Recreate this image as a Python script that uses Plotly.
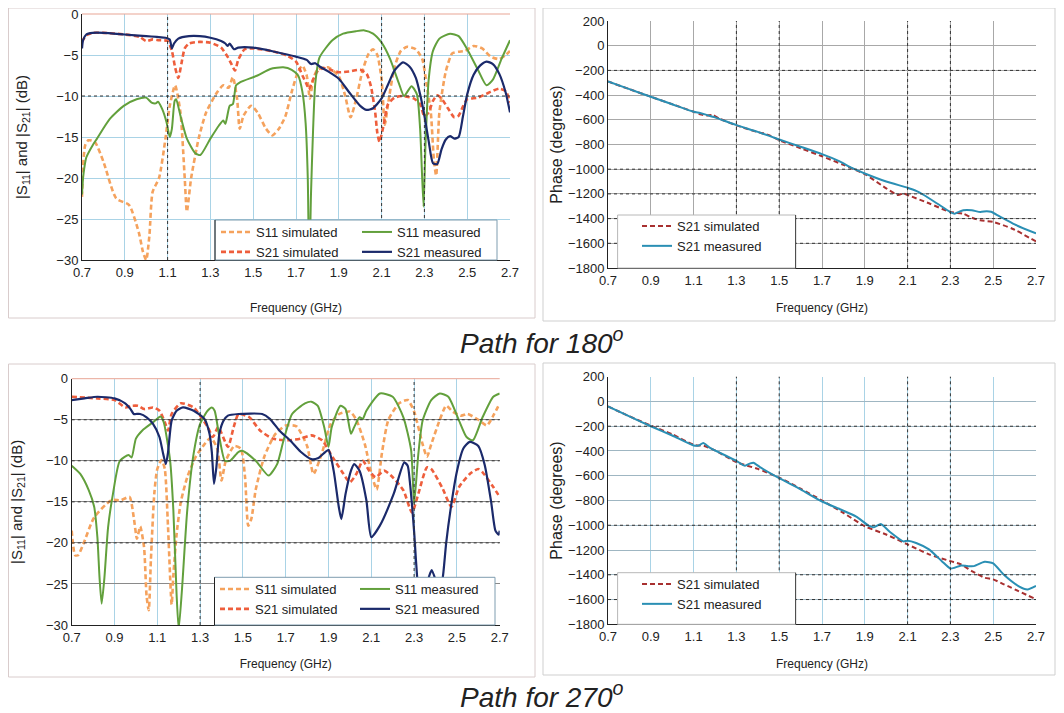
import plotly.graph_objects as go

# page body has an 8px default margin; the figure is sized to fit the window
OFF = 8
W, H = 1064 - OFF, 713 - OFF
FONT = "Liberation Sans, Arial, sans-serif"

# ---------------- data ----------------
freq_ticks = [0.7, 0.9, 1.1, 1.3, 1.5, 1.7, 1.9, 2.1, 2.3, 2.5, 2.7]

# ---- Path for 180 : S-parameters ----
tl_s21m_f = [0.70,0.705,0.72,0.75,0.80,0.90,1.00,1.05,1.09,1.11,1.12,1.13,1.15,1.20,1.25,1.30,1.35,1.37,1.38,1.39,1.41,1.43,1.50,1.60,1.70,1.75,1.77,1.79,1.81,1.85,1.90,1.95,2.00,2.03,2.06,2.10,2.13,2.16,2.20,2.23,2.26,2.28,2.30,2.32,2.34,2.36,2.38,2.40,2.42,2.44,2.46,2.48,2.50,2.53,2.56,2.59,2.62,2.65,2.68,2.70]
tl_s21m_y = [-4.2,-3.2,-2.5,-2.3,-2.3,-2.5,-2.7,-2.8,-2.9,-3.1,-4.2,-3.6,-3.0,-2.7,-2.7,-2.9,-3.3,-3.6,-3.9,-3.6,-4.3,-4.1,-4.1,-4.6,-5.2,-5.6,-6.1,-6.0,-6.4,-7.0,-7.9,-9.6,-11.2,-11.7,-11.5,-10.3,-8.6,-6.9,-5.9,-6.4,-7.8,-9.8,-12.4,-15.5,-18.2,-18.3,-16.5,-15.3,-14.9,-15.2,-15.0,-12.5,-9.8,-7.4,-6.3,-5.8,-6.1,-7.3,-9.6,-12.0]

tl_s21s_f = [0.70,0.72,0.75,0.80,0.90,0.97,1.00,1.03,1.06,1.10,1.12,1.135,1.15,1.165,1.18,1.20,1.25,1.30,1.35,1.38,1.40,1.415,1.43,1.46,1.50,1.60,1.66,1.70,1.73,1.75,1.76,1.78,1.80,1.83,1.86,1.90,1.95,2.00,2.03,2.05,2.07,2.08,2.09,2.11,2.13,2.16,2.20,2.25,2.28,2.30,2.32,2.34,2.36,2.38,2.41,2.44,2.46,2.48,2.50,2.55,2.60,2.65,2.68,2.70]
tl_s21s_y = [-3.4,-2.6,-2.3,-2.3,-2.5,-2.8,-3.3,-3.1,-3.2,-3.3,-4.5,-6.5,-7.8,-6.0,-4.2,-3.6,-3.4,-3.5,-4.1,-5.2,-6.2,-6.9,-5.6,-4.3,-4.2,-4.6,-5.1,-5.8,-7.5,-8.6,-9.2,-8.0,-7.0,-6.6,-6.8,-7.1,-7.0,-6.8,-7.3,-8.8,-12.0,-14.5,-15.6,-13.5,-11.0,-10.2,-10.0,-10.3,-11.0,-12.5,-12.0,-10.6,-9.9,-10.3,-11.5,-12.6,-12.4,-11.3,-10.4,-10.2,-9.6,-9.1,-9.4,-10.8]

tl_s11s_f = [0.70,0.705,0.715,0.73,0.76,0.80,0.86,0.92,0.965,0.985,1.00,1.015,1.03,1.06,1.09,1.11,1.135,1.16,1.18,1.19,1.21,1.245,1.28,1.33,1.36,1.385,1.405,1.425,1.437,1.455,1.49,1.52,1.56,1.59,1.62,1.65,1.68,1.71,1.73,1.75,1.765,1.78,1.80,1.85,1.90,1.93,1.955,1.98,2.01,2.04,2.06,2.08,2.10,2.115,2.13,2.16,2.19,2.22,2.26,2.29,2.31,2.33,2.345,2.355,2.37,2.40,2.43,2.46,2.49,2.53,2.57,2.61,2.65,2.68,2.70]
tl_s11s_y = [-22.3,-18.5,-16.0,-15.4,-15.6,-18.0,-22.5,-23.3,-26.6,-29.0,-30.0,-27.0,-21.7,-20.0,-15.2,-11.2,-8.7,-12.0,-20.0,-24.1,-20.0,-15.2,-12.0,-9.6,-8.7,-9.0,-7.7,-10.4,-14.0,-12.4,-11.2,-12.0,-14.0,-14.8,-14.0,-12.5,-9.5,-7.0,-6.3,-7.5,-10.3,-8.0,-6.8,-6.5,-7.6,-10.0,-12.6,-10.5,-7.0,-4.8,-4.3,-5.0,-8.0,-13.5,-11.0,-6.5,-4.5,-4.0,-4.3,-5.5,-8.5,-12.0,-18.0,-19.7,-12.0,-7.0,-4.8,-4.6,-4.5,-3.9,-4.2,-5.2,-5.5,-5.0,-4.5]

tl_s11m_f = [0.70,0.705,0.71,0.72,0.75,0.77,0.83,0.895,0.955,1.00,1.025,1.045,1.055,1.075,1.095,1.11,1.12,1.133,1.14,1.16,1.19,1.23,1.253,1.30,1.34,1.36,1.37,1.39,1.405,1.42,1.44,1.52,1.58,1.64,1.68,1.71,1.73,1.745,1.755,1.762,1.77,1.78,1.79,1.81,1.87,1.92,1.98,2.02,2.06,2.10,2.14,2.18,2.205,2.24,2.265,2.28,2.296,2.305,2.32,2.34,2.37,2.42,2.46,2.50,2.55,2.59,2.62,2.66,2.70]
tl_s11m_y = [-22.0,-20.0,-18.9,-17.5,-16.0,-15.2,-12.8,-11.2,-10.4,-10.2,-10.8,-10.9,-10.7,-11.6,-13.2,-15.0,-14.0,-10.6,-10.4,-12.4,-15.2,-17.0,-17.2,-15.2,-13.6,-13.0,-13.4,-11.2,-11.0,-8.7,-8.3,-7.5,-6.7,-6.5,-6.8,-7.5,-9.5,-13.3,-20.0,-32.0,-22.0,-14.0,-8.5,-5.3,-3.2,-2.4,-2.1,-2.0,-2.4,-3.5,-5.5,-8.4,-10.0,-8.8,-9.8,-14.0,-23.5,-16.0,-8.0,-4.5,-3.0,-2.4,-2.7,-4.3,-6.8,-8.7,-8.0,-5.5,-3.2]

# ---- Path for 180 : phase ----
tr_meas_f = [0.70,0.80,0.90,1.00,1.10,1.13,1.16,1.20,1.30,1.40,1.50,1.60,1.70,1.78,1.84,1.90,2.00,2.10,2.14,2.18,2.24,2.30,2.32,2.34,2.36,2.40,2.44,2.47,2.49,2.53,2.60,2.70]
tr_meas_y = [-290,-352,-413,-474,-535,-545,-560,-580,-643,-698,-759,-818,-878,-935,-990,-1035,-1100,-1150,-1175,-1213,-1280,-1347,-1360,-1345,-1333,-1333,-1347,-1340,-1345,-1382,-1447,-1520]
tr_sim_f = [0.70,0.80,0.90,1.00,1.10,1.13,1.16,1.19,1.22,1.30,1.40,1.43,1.46,1.50,1.60,1.70,1.80,1.90,2.00,2.055,2.08,2.10,2.20,2.30,2.36,2.40,2.44,2.50,2.59,2.70]
tr_sim_y = [-290,-352,-413,-474,-535,-555,-565,-562,-590,-645,-700,-712,-730,-765,-830,-895,-965,-1040,-1155,-1209,-1196,-1209,-1276,-1347,-1360,-1393,-1414,-1427,-1482,-1585]

# ---- Path for 270 : S-parameters ----
bl_s21m_f = [0.70,0.76,0.82,0.90,0.95,0.975,0.99,1.00,1.02,1.05,1.08,1.11,1.127,1.14,1.15,1.167,1.19,1.22,1.27,1.32,1.344,1.355,1.365,1.376,1.39,1.41,1.43,1.48,1.59,1.626,1.67,1.72,1.77,1.82,1.85,1.90,1.924,1.948,1.96,1.98,2.005,2.02,2.045,2.077,2.10,2.14,2.205,2.254,2.27,2.28,2.30,2.31,2.325,2.345,2.365,2.382,2.40,2.42,2.436,2.45,2.47,2.50,2.53,2.56,2.60,2.63,2.66,2.68,2.695,2.70]
bl_s21m_y = [-2.6,-2.4,-2.2,-2.4,-3.0,-3.7,-4.3,-4.3,-4.3,-4.7,-5.5,-7.1,-9.1,-10.4,-9.0,-5.1,-3.9,-3.5,-3.9,-4.9,-6.7,-9.0,-12.8,-10.8,-6.7,-5.1,-4.5,-4.3,-4.3,-4.9,-6.3,-7.5,-8.9,-9.8,-9.7,-8.7,-11.2,-15.6,-17.1,-14.0,-11.2,-10.4,-11.2,-14.8,-19.3,-17.9,-14.0,-10.2,-10.6,-12.5,-18.6,-22.6,-26.5,-27.0,-24.5,-23.3,-24.5,-26.5,-23.8,-20.0,-16.0,-11.3,-8.5,-7.7,-8.2,-10.5,-15.0,-18.5,-19.0,-18.5]

bl_s21s_f = [0.70,0.82,0.90,0.95,0.98,1.01,1.04,1.08,1.11,1.135,1.15,1.167,1.21,1.27,1.30,1.336,1.36,1.385,1.43,1.457,1.48,1.53,1.58,1.64,1.71,1.77,1.82,1.87,1.92,1.96,2.00,2.03,2.06,2.09,2.12,2.16,2.20,2.25,2.29,2.32,2.36,2.38,2.43,2.475,2.51,2.56,2.60,2.62,2.67,2.70]
bl_s21s_y = [-2.2,-2.4,-2.6,-3.5,-3.3,-3.3,-3.7,-3.5,-3.9,-5.3,-6.3,-4.3,-3.0,-3.5,-4.5,-5.9,-7.1,-5.9,-8.3,-5.9,-4.3,-4.7,-6.3,-7.3,-7.5,-7.3,-6.9,-7.5,-9.6,-11.2,-12.6,-11.6,-10.0,-11.2,-12.0,-11.2,-12.0,-13.6,-16.3,-14.0,-10.8,-11.0,-13.2,-15.6,-13.2,-11.6,-11.0,-11.4,-13.2,-14.4]

bl_s11s_f = [0.70,0.716,0.73,0.755,0.805,0.885,0.93,0.97,0.99,1.005,1.02,1.038,1.05,1.06,1.07,1.086,1.10,1.12,1.135,1.15,1.167,1.175,1.19,1.21,1.24,1.28,1.32,1.35,1.38,1.40,1.42,1.46,1.49,1.51,1.525,1.54,1.56,1.60,1.65,1.70,1.75,1.80,1.83,1.87,1.91,1.95,2.00,2.03,2.07,2.10,2.125,2.15,2.18,2.23,2.27,2.30,2.34,2.36,2.38,2.42,2.45,2.48,2.52,2.55,2.60,2.64,2.67,2.70]
bl_s11s_y = [-18.5,-21.5,-21.5,-20.1,-16.9,-14.8,-14.8,-14.4,-16.9,-19.5,-18.0,-20.5,-26.5,-28.2,-22.1,-14.0,-11.0,-9.9,-11.0,-18.0,-27.5,-24.0,-19.0,-15.0,-12.0,-9.5,-8.0,-7.2,-8.5,-12.4,-10.0,-8.2,-8.5,-12.0,-17.9,-17.0,-13.5,-9.5,-6.8,-5.7,-5.8,-8.2,-11.6,-9.0,-5.5,-4.3,-4.0,-5.0,-8.0,-11.5,-13.5,-9.0,-5.0,-3.0,-2.6,-4.0,-8.0,-9.5,-8.0,-5.0,-3.3,-4.0,-4.5,-4.3,-5.0,-5.7,-4.5,-3.0]

bl_s11m_f = [0.70,0.74,0.78,0.805,0.82,0.83,0.84,0.853,0.87,0.893,0.925,0.966,0.98,1.00,1.03,1.08,1.115,1.13,1.16,1.175,1.19,1.20,1.215,1.24,1.27,1.30,1.335,1.355,1.368,1.39,1.416,1.44,1.48,1.50,1.56,1.62,1.66,1.69,1.73,1.79,1.82,1.85,1.88,1.90,1.915,1.956,1.98,2.005,2.02,2.045,2.06,2.077,2.14,2.20,2.25,2.286,2.30,2.32,2.34,2.38,2.42,2.46,2.51,2.545,2.575,2.62,2.67,2.70]
bl_s11m_y = [-10.6,-11.6,-13.6,-15.6,-19.3,-24.2,-27.4,-24.2,-18.1,-14.0,-10.0,-9.3,-9.6,-7.3,-6.3,-5.3,-4.6,-5.3,-10.0,-16.0,-26.2,-30.5,-25.8,-16.0,-9.1,-5.5,-3.9,-3.5,-3.9,-7.1,-10.0,-10.0,-8.9,-8.8,-10.0,-11.8,-10.4,-7.5,-4.3,-3.0,-2.8,-3.3,-5.9,-8.3,-5.9,-3.3,-3.7,-6.7,-5.9,-4.7,-4.9,-3.9,-1.8,-2.2,-4.7,-8.7,-15.2,-9.1,-5.1,-2.6,-1.8,-2.2,-5.1,-7.1,-7.5,-4.7,-2.2,-1.8]

# ---- Path for 270 : phase ----
br_meas_f = [0.70,0.80,0.90,1.00,1.10,1.125,1.145,1.175,1.30,1.34,1.365,1.38,1.41,1.50,1.60,1.70,1.79,1.86,1.92,1.945,1.975,2.015,2.08,2.10,2.14,2.20,2.26,2.30,2.32,2.35,2.38,2.41,2.46,2.50,2.55,2.62,2.66,2.70]
br_meas_y = [-40,-120,-200,-275,-355,-355,-335,-373,-480,-520,-500,-495,-530,-620,-710,-808,-875,-930,-1005,-1015,-990,-1050,-1130,-1125,-1143,-1195,-1290,-1350,-1343,-1325,-1330,-1330,-1295,-1308,-1400,-1493,-1518,-1490]
br_sim_f = [0.70,0.80,0.90,1.00,1.10,1.15,1.20,1.30,1.40,1.50,1.60,1.70,1.80,1.90,2.00,2.10,2.20,2.30,2.35,2.40,2.46,2.50,2.55,2.70]
br_sim_y = [-40,-120,-195,-265,-350,-360,-395,-490,-545,-615,-705,-800,-900,-1008,-1075,-1155,-1235,-1290,-1317,-1370,-1424,-1437,-1477,-1598]

# ---------------- styles ----------------
C_S11S = "#F5A25D"
C_S21S = "#EE5E3C"
C_S11M = "#62A03C"
C_S21M = "#1B2A6B"
C_PSIM = "#A83030"
C_PMEAS = "#2A8FB4"
DASH = "5px,3px"


def px_x(p):
    return (p - OFF) / W


def px_y(p):
    return 1 - (p - OFF) / H


# plot areas in window pixels: (left, right, top, bottom)
areas = {
    "tl": (82, 510, 14, 260),
    "tr": (608, 1036, 21, 268),
    "bl": (71.7, 499.7, 378.7, 625),
    "br": (608, 1036, 376.7, 624.3),
}
axis_ids = {"tl": ("x", "y"), "tr": ("x2", "y2"), "bl": ("x3", "y3"), "br": ("x4", "y4")}

fig = go.Figure()


def add(name, f, y, color, key, legend, dashed, width):
    xa, ya = axis_ids[key]
    fig.add_trace(go.Scatter(
        x=f, y=y, mode="lines", name=name, xaxis=xa, yaxis=ya, legend=legend,
        line=dict(color=color, width=width, dash=DASH if dashed else "solid",
                  shape="spline", smoothing=0.6),
        hoverinfo="skip"))


add("S11 simulated", tl_s11s_f, tl_s11s_y, C_S11S, "tl", "legend", True, 2.6)
add("S21 simulated", tl_s21s_f, tl_s21s_y, C_S21S, "tl", "legend", True, 2.6)
add("S11 measured", tl_s11m_f, tl_s11m_y, C_S11M, "tl", "legend2", False, 2.0)
add("S21 measured", tl_s21m_f, tl_s21m_y, C_S21M, "tl", "legend2", False, 2.2)

add("S21 simulated", tr_sim_f, tr_sim_y, C_PSIM, "tr", "legend3", True, 2.0)
add("S21 measured", tr_meas_f, tr_meas_y, C_PMEAS, "tr", "legend3", False, 2.0)

add("S11 simulated", bl_s11s_f, bl_s11s_y, C_S11S, "bl", "legend4", True, 2.6)
add("S21 simulated", bl_s21s_f, bl_s21s_y, C_S21S, "bl", "legend4", True, 2.6)
add("S11 measured", bl_s11m_f, bl_s11m_y, C_S11M, "bl", "legend5", False, 2.0)
add("S21 measured", bl_s21m_f, bl_s21m_y, C_S21M, "bl", "legend5", False, 2.2)

add("S21 simulated", br_sim_f, br_sim_y, C_PSIM, "br", "legend6", True, 2.0)
add("S21 measured", br_meas_f, br_meas_y, C_PMEAS, "br", "legend6", False, 2.0)

tickfont = dict(family=FONT, size=13, color="#222")


def xaxis_cfg(key, gridcolor, standoff):
    l, r, t, b = areas[key]
    return dict(domain=[px_x(l), px_x(r)], anchor=axis_ids[key][1],
                range=[0.7, 2.7], tickmode="array", tickvals=freq_ticks,
                ticktext=[f"{v:.1f}" for v in freq_ticks],
                showgrid=True, gridcolor=gridcolor, gridwidth=1,
                showline=True, linecolor="#222", linewidth=1, ticks="",
                zeroline=False, tickfont=tickfont,
                title=dict(text="Frequency (GHz)", font=dict(family=FONT, size=12, color="#222"),
                           standoff=standoff))


def yaxis_cfg(key, rng, dtick, gridcolor, title, tsize, standoff):
    l, r, t, b = areas[key]
    return dict(domain=[px_y(b), px_y(t)], anchor=axis_ids[key][0],
                range=rng, dtick=dtick, tick0=0,
                showgrid=True, gridcolor=gridcolor, gridwidth=1,
                showline=True, linecolor="#222", linewidth=1, ticks="",
                zeroline=False, tickfont=tickfont, ticklabeloverflow="allow",
                title=dict(text=title, font=dict(family=FONT, size=tsize, color="#222"),
                           standoff=standoff))


GRID_BLUE = "#a9d3e6"
GRID_GRAY = "#a8a8a8"
STITLE = "|S<sub>11</sub>| and |S<sub>21</sub>| (dB)"

fig.update_layout(
    width=W, height=H, margin=dict(l=0, r=0, t=0, b=0, autoexpand=False),
    paper_bgcolor="white", plot_bgcolor="white", showlegend=True,
    font=dict(family=FONT, color="#222"),
    xaxis=xaxis_cfg("tl", GRID_BLUE, 25),
    yaxis=yaxis_cfg("tl", [-30, 0], 5, GRID_BLUE, STITLE, 15, 25),
    xaxis2=xaxis_cfg("tr", GRID_GRAY, 17),
    yaxis2=yaxis_cfg("tr", [-1800, 200], 200, GRID_GRAY, "Phase (degrees)", 16, 1),
    xaxis3=xaxis_cfg("bl", GRID_BLUE, 16),
    yaxis3=yaxis_cfg("bl", [-30, 0], 5, "#8a8a8a", STITLE, 15, 25),
    xaxis4=xaxis_cfg("br", GRID_BLUE, 16),
    yaxis4=yaxis_cfg("br", [-1800, 200], 200, "#9fb6c2", "Phase (degrees)", 16, 1),
)


# legends (positioned in window pixels)
def legend_cfg(left, top):
    return dict(x=px_x(left), y=px_y(top), xanchor="left", yanchor="top",
                orientation="v", bgcolor="rgba(0,0,0,0)", borderwidth=0,
                font=dict(family=FONT, size=13, color="#222"),
                itemwidth=30, tracegroupgap=0, traceorder="normal")


fig.update_layout(
    legend=legend_cfg(216, 217),
    legend2=legend_cfg(357, 217),
    legend3=legend_cfg(637, 211),
    legend4=legend_cfg(215, 574),
    legend5=legend_cfg(355, 574),
    legend6=legend_cfg(637, 569),
)

shapes = []


def rect_px(x0, y0, x1, y1, line, fill="rgba(0,0,0,0)", layer="above", width=1):
    shapes.append(dict(type="rect", xref="paper", yref="paper",
                       x0=px_x(x0), x1=px_x(x1), y0=px_y(y1), y1=px_y(y0),
                       line=dict(color=line, width=width), fillcolor=fill, layer=layer))


def line_px(x0, y0, x1, y1, color, width=1):
    shapes.append(dict(type="line", xref="paper", yref="paper",
                       x0=px_x(x0), x1=px_x(x1), y0=px_y(y0), y1=px_y(y1),
                       line=dict(color=color, width=width), layer="above"))


# panel frames
rect_px(8.5, 8, 535, 318, "#d9cccc", layer="below")
rect_px(543, 8, 1055, 321, "#cfcfcf", layer="below")
rect_px(8.5, 364, 535, 677, "#d9cccc", layer="below")
rect_px(543, 363, 1055, 675, "#cfcfcf", layer="below")

# darker dotted gridlines (style emphasis)
dark_v = {"tl": [1.1, 2.1, 2.3], "tr": [1.3, 1.5, 2.1, 2.3], "bl": [1.3, 2.3], "br": [1.3, 1.5, 2.1, 2.3]}
dark_h = {"tl": [-10], "tr": [-200, -1000, -1200, -1400, -1600], "bl": [-5, -10, -15, -20],
          "br": [-200, -1000, -1400, -1600]}
for key in dark_v:
    xa, ya = axis_ids[key]
    for v in dark_v[key]:
        shapes.append(dict(type="line", xref=xa, yref=ya + " domain", x0=v, x1=v, y0=0, y1=1,
                           line=dict(color="#333", width=1, dash="dot"), layer="above"))
    for v in dark_h[key]:
        shapes.append(dict(type="line", xref=xa + " domain", yref=ya, x0=0, x1=1, y0=v, y1=v,
                           line=dict(color="#333", width=1, dash="dot"), layer="above"))

# reddish top edge of the S-parameter plots
for key in ["tl", "bl"]:
    xa, ya = axis_ids[key]
    shapes.append(dict(type="line", xref=xa + " domain", yref=ya + " domain", x0=0, x1=1, y0=1, y1=1,
                       line=dict(color="#e8a595", width=1), layer="above"))

# legend boxes
rect_px(215, 220, 497, 260, "#7f9db0", fill="white")
line_px(215, 220, 215, 260, "#222")
rect_px(617.6, 215, 795.6, 268, "#b8b8b8", fill="white")
line_px(795.6, 215, 795.6, 268, "#444")
rect_px(214.5, 577.3, 495, 625, "#7f9db0", fill="white")
line_px(214.5, 577.3, 214.5, 625, "#222")
rect_px(617.6, 572.7, 795.6, 624.3, "#b8b8b8", fill="white")
line_px(795.6, 572.7, 795.6, 624.3, "#444")

fig.update_layout(shapes=shapes)

# panel captions
for txt, yc in [("Path for 180<sup>o</sup>", 341), ("Path for 270<sup>o</sup>", 695)]:
    fig.add_annotation(text="<i>" + txt + "</i>", xref="paper", yref="paper",
                       x=px_x(541.5), y=px_y(yc), xanchor="center", yanchor="middle",
                       showarrow=False, font=dict(family=FONT, size=28, color="#222"))

fig.write_html("out.html")
